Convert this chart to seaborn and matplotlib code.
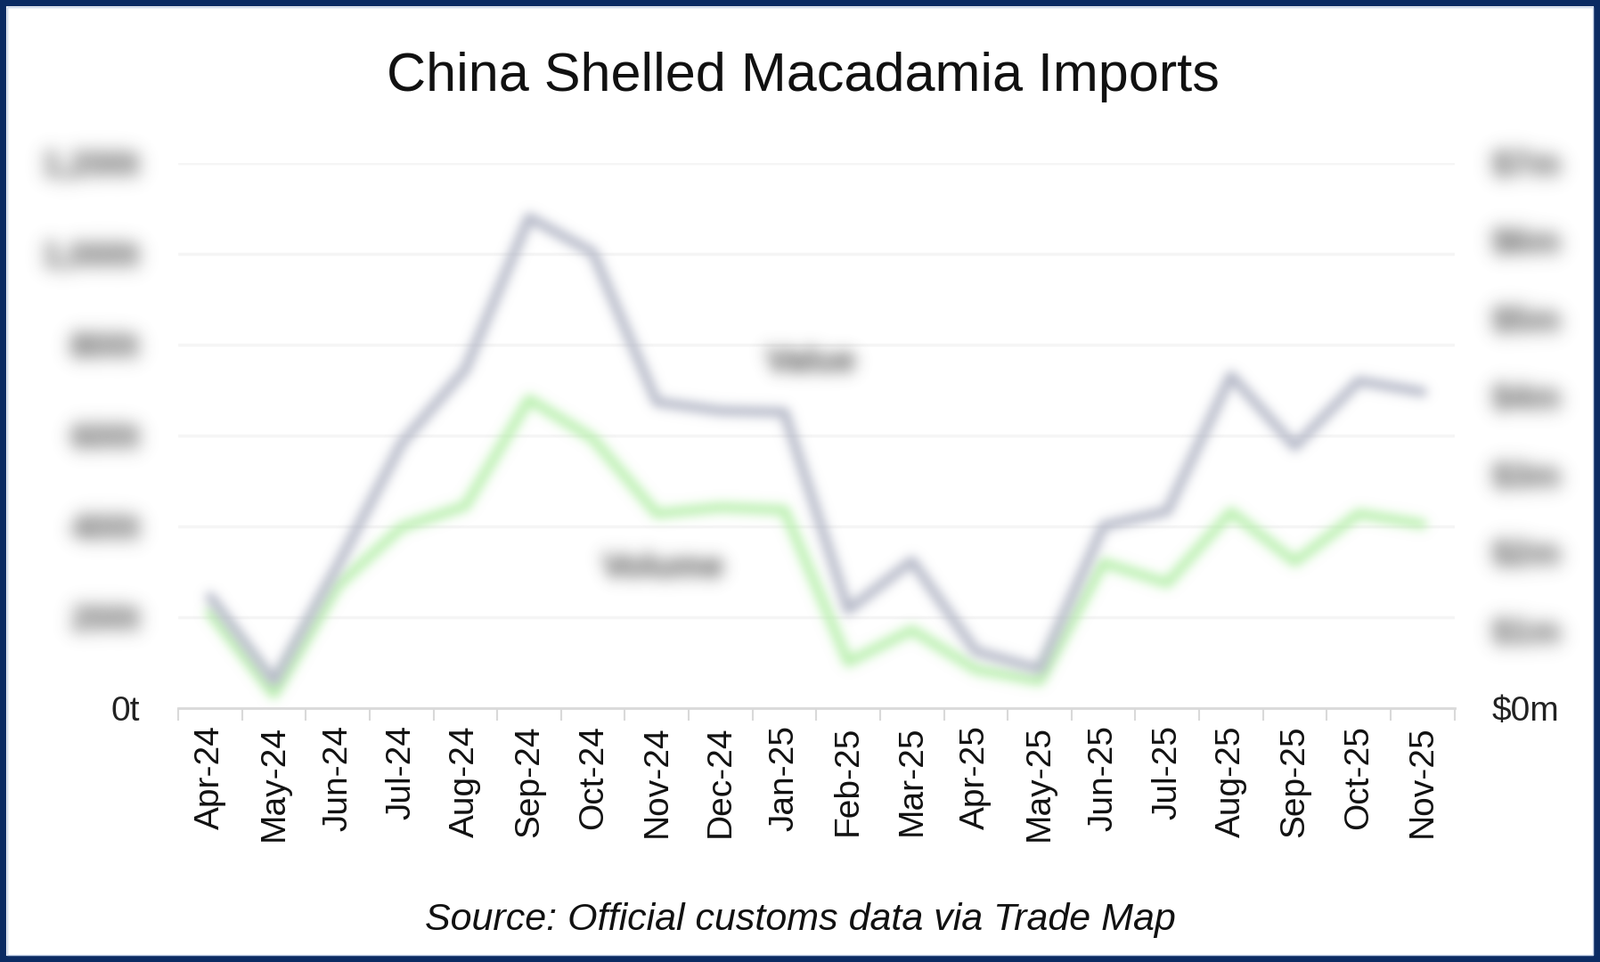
import numpy as np
import pandas as pd
import seaborn as sns
import matplotlib.pyplot as plt
from matplotlib.patches import Rectangle

# data
months = ["Apr-24", "May-24", "Jun-24", "Jul-24", "Aug-24", "Sep-24", "Oct-24",
          "Nov-24", "Dec-24", "Jan-25", "Feb-25", "Mar-25", "Apr-25", "May-25",
          "Jun-25", "Jul-25", "Aug-25", "Sep-25", "Oct-25", "Nov-25"]
volume_t = [211, 31, 270, 398, 445, 680, 593, 428, 442, 436,
            101, 172, 85, 60, 320, 275, 432, 322, 428, 405]
value_m = [1.43, 0.34, 1.83, 3.40, 4.35, 6.30, 5.85, 3.93, 3.82, 3.80,
           1.26, 1.89, 0.73, 0.50, 2.34, 2.53, 4.27, 3.36, 4.20, 4.06]

left_ticks = [0, 200, 400, 600, 800, 1000, 1200]
left_labels = ["0t", "200t", "400t", "600t", "800t", "1,000t", "1,200t"]
right_ticks = [0, 1, 2, 3, 4, 5, 6, 7]
right_labels = ["$0m", "$1m", "$2m", "$3m", "$4m", "$5m", "$6m", "$7m"]

df = pd.DataFrame({"pos": np.arange(len(months)), "month": months,
                   "volume": volume_t, "value": value_m})


def conv_axis(a, kern, axis):
    r = len(kern) // 2
    a = np.moveaxis(a, axis, 0)
    p = np.pad(a, [(r, r)] + [(0, 0)] * (a.ndim - 1))
    out = np.zeros_like(a)
    for i, w in enumerate(kern):
        out += w * p[i:i + a.shape[0]]
    return np.moveaxis(out, 0, axis)


def make_blur(sigma):
    # gaussian blur used as agg_filter (the source picture is blurred)
    r = int(3 * sigma) + 1
    xs = np.arange(-r, r + 1)
    kern = np.exp(-0.5 * (xs / sigma) ** 2)
    kern /= kern.sum()

    def filt(im, dpi):
        im = np.pad(im, [(r, r), (r, r), (0, 0)])
        alpha = im[:, :, 3:4]
        stack = np.concatenate([im[:, :, :3] * alpha, alpha], axis=2)
        stack = conv_axis(conv_axis(stack, kern, 0), kern, 1)
        a = stack[:, :, 3:4]
        rgb = stack[:, :, :3] / np.maximum(a, 1e-6)
        out = np.clip(np.concatenate([rgb, a], axis=2), 0, 1)
        return out, -r, -r
    return filt


sns.set_theme(style="white")
plt.rcParams['font.family'] = ['Liberation Sans', 'DejaVu Sans']

fig = plt.figure(figsize=(17.96, 10.8), dpi=100)
ax = fig.add_axes([0.1114, 0.2639, 0.7976, 0.5667])
ax2 = ax.twinx()

sns.lineplot(data=df, x="pos", y="volume", ax=ax, color="#b4efa8", lw=7.5)
sns.lineplot(data=df, x="pos", y="value", ax=ax2, color="#b0b4c4", lw=7.5)
for line in ax.lines + ax2.lines:
    line.set_agg_filter(make_blur(6))
    line.set_solid_joinstyle("round")

ax.set_xlim(-0.5, len(months) - 0.5)
ax.set_ylim(0, 1200)
ax2.set_ylim(0, 7)

ax.set_xticks(df["pos"], labels=months, rotation=90, fontsize=28, color="#111111")
ax.set_xticks(np.arange(-0.5, len(months)), minor=True)
ax.tick_params(axis="x", which="major", length=0, pad=14)
ax.tick_params(axis="x", which="minor", length=10, width=1.5, color="#d9d9d9",
               bottom=True)

ax.set_yticks(left_ticks, labels=left_labels, fontsize=28, color="#222222")
ax.tick_params(axis="y", length=0, pad=31)
ax2.set_yticks(right_ticks, labels=right_labels, fontsize=28, color="#222222")
ax2.tick_params(axis="y", length=0, pad=30)

ax.yaxis.grid(True, color="#f5f5f5", lw=2.5)
ax.set_axisbelow(True)
for a in (ax, ax2):
    a.set_xlabel("")
    a.set_ylabel("")
    for s in ("top", "left", "right"):
        a.spines[s].set_visible(False)
ax2.spines["bottom"].set_visible(False)
ax.spines["bottom"].set_color("#d9d9d9")
ax.spines["bottom"].set_linewidth(2)

# blur the tick values except the zeros
for lab in ax.get_yticklabels()[1:] + ax2.get_yticklabels()[1:]:
    lab.set_color("#4a4a4a")
    lab.set_fontweight("bold")
    lab.set_agg_filter(make_blur(10))

t1 = ax2.text(9.42, 4.44, "Value", fontsize=28, color="#4a4a4a", weight="bold",
              ha="center", va="center")
t2 = ax.text(7.1, 308, "Volume", fontsize=28, color="#4a4a4a", weight="bold",
             ha="center", va="center")
for t in (t1, t2):
    t.set_agg_filter(make_blur(9))

fig.text(0.502, 0.92, "China Shelled Macadamia Imports", ha="center", va="center",
         fontsize=44, color="#111111")
fig.text(0.5, 0.0435, "Source: Official customs data via Trade Map",
         ha="center", va="center", fontsize=31, style="italic", color="#111111")

fig.patches.append(Rectangle((0, 0), 1, 1, transform=fig.transFigure, fill=False,
                             edgecolor="#0b2b63", lw=10, zorder=10))
fig.patches.append(Rectangle((0.0045, 0.0075), 0.991, 0.985, transform=fig.transFigure,
                             fill=False, edgecolor="#c9d6ea", lw=1, zorder=10))

fig.savefig("out.png", dpi=100)
